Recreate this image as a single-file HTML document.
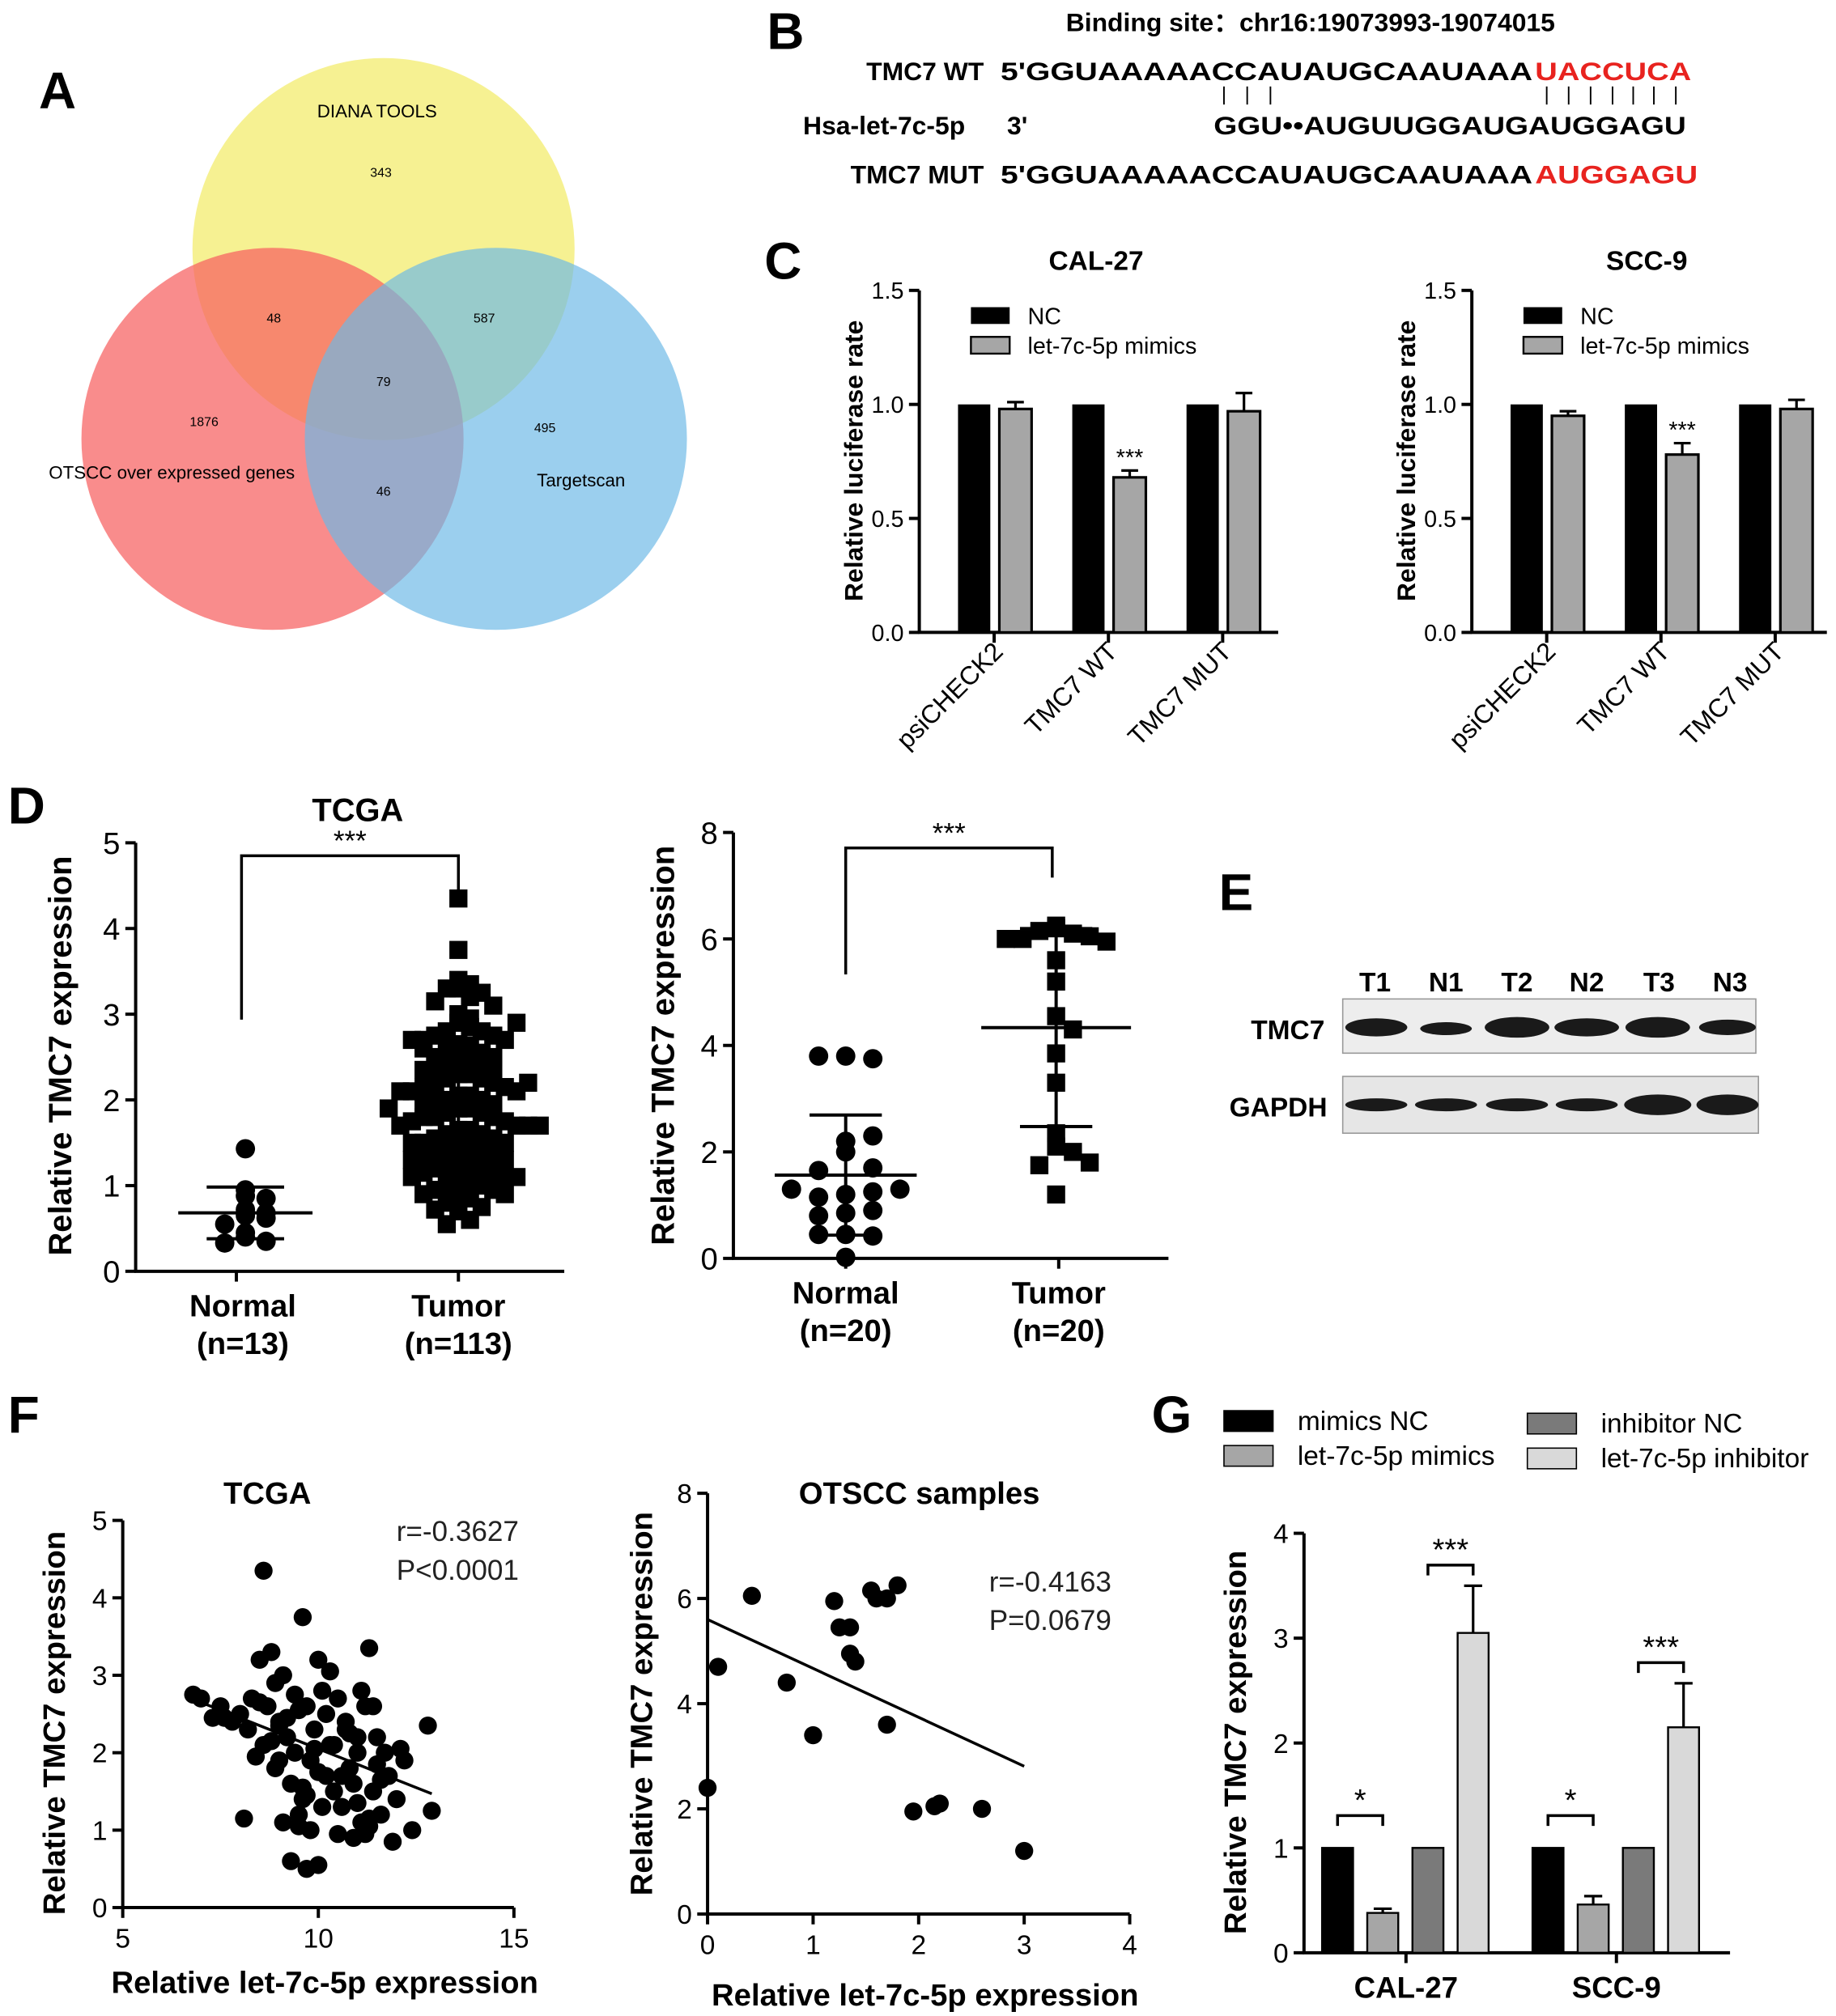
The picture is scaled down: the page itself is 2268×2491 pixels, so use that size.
<!DOCTYPE html>
<html><head><meta charset="utf-8"><style>
html,body{margin:0;padding:0;background:#fff;}
svg{display:block;font-family:"Liberation Sans",Arial,sans-serif;}
.lbl{font-weight:bold;}
</style></head><body>
<svg id="fig" xmlns="http://www.w3.org/2000/svg" width="2268" height="2491" viewBox="0 0 1422 1562">
<rect x="0" y="0" width="1422" height="1562" fill="#fff"/>
<text x="30" y="84" font-size="40" class="lbl">A</text>
<text x="594" y="38" font-size="40" class="lbl">B</text>
<text x="592" y="216" font-size="40" class="lbl">C</text>
<text x="6" y="638" font-size="40" class="lbl">D</text>
<text x="944" y="705" font-size="40" class="lbl">E</text>
<text x="6" y="1110" font-size="40" class="lbl">F</text>
<text x="892" y="1110" font-size="40" class="lbl">G</text>

<g>
<circle cx="297" cy="193" r="148" fill="#f3ec6e" opacity="0.75"/>
<circle cx="211" cy="340" r="148" fill="#f66060" opacity="0.72"/>
<circle cx="384" cy="340" r="148" fill="#6bb8e6" opacity="0.68"/>
<g font-size="10" text-anchor="middle">
<text x="295" y="137">343</text>
<text x="212" y="250">48</text>
<text x="375" y="250">587</text>
<text x="297" y="299">79</text>
<text x="158" y="330">1876</text>
<text x="422" y="335">495</text>
<text x="297" y="384">46</text>
</g>
<g font-size="14" text-anchor="middle">
<text x="292" y="91">DIANA TOOLS</text>
<text x="133" y="371">OTSCC over expressed genes</text>
<text x="450" y="377">Targetscan</text>
</g>
</g>

<g font-weight="bold" font-size="20">
<text x="1015" y="24" text-anchor="middle">Binding site：chr16:19073993-19074015</text>
<text x="762" y="62" text-anchor="end">TMC7 WT</text>
<text x="775" y="62" textLength="412" lengthAdjust="spacingAndGlyphs">5'GGUAAAAACCAUAUGCAAUAAA</text>
<text x="1189" y="62" textLength="121" lengthAdjust="spacingAndGlyphs" fill="#e8231f">UACCUCA</text>
<text x="622" y="104">Hsa-let-7c-5p</text>
<text x="780" y="104">3'</text>
<text x="940" y="104" textLength="366" lengthAdjust="spacingAndGlyphs">GGU••AUGUUGGAUGAUGGAGU</text>
<text x="762" y="142" text-anchor="end">TMC7 MUT</text>
<text x="775" y="142" textLength="412" lengthAdjust="spacingAndGlyphs">5'GGUAAAAACCAUAUGCAAUAAA</text>
<text x="1189" y="142" textLength="126" lengthAdjust="spacingAndGlyphs" fill="#e8231f">AUGGAGU</text>
<g stroke="#000" stroke-width="1.2">
<line x1="948" y1="67" x2="948" y2="81"/><line x1="966" y1="67" x2="966" y2="81"/><line x1="984" y1="67" x2="984" y2="81"/>
<line x1="1198" y1="67" x2="1198" y2="81"/><line x1="1215" y1="67" x2="1215" y2="81"/><line x1="1232" y1="67" x2="1232" y2="81"/><line x1="1249" y1="67" x2="1249" y2="81"/><line x1="1265" y1="67" x2="1265" y2="81"/><line x1="1281" y1="67" x2="1281" y2="81"/><line x1="1298" y1="67" x2="1298" y2="81"/>
</g>
</g>

<g>
<g font-weight="bold" font-size="21" text-anchor="middle">
<text x="1065" y="768">T1</text>
<text x="1120" y="768">N1</text>
<text x="1175" y="768">T2</text>
<text x="1229" y="768">N2</text>
<text x="1285" y="768">T3</text>
<text x="1340" y="768">N3</text>
</g>
<text x="1026" y="805" font-weight="bold" font-size="21" text-anchor="end">TMC7</text>
<text x="1028" y="865" font-weight="bold" font-size="21" text-anchor="end">GAPDH</text>
<rect x="1040" y="774" width="320" height="42" fill="#ededed" stroke="#999" stroke-width="1"/>
<rect x="1040" y="834" width="322" height="44" fill="#e6e6e6" stroke="#999" stroke-width="1"/>
<g fill="#1a1a1a">
<ellipse cx="1066" cy="796" rx="24" ry="7"/><ellipse cx="1120" cy="797" rx="20" ry="5"/><ellipse cx="1175" cy="796" rx="25" ry="8"/><ellipse cx="1229" cy="796" rx="25" ry="7"/><ellipse cx="1284" cy="796" rx="25" ry="8"/><ellipse cx="1338" cy="796" rx="22" ry="6"/>
<ellipse cx="1066" cy="856" rx="24" ry="5"/><ellipse cx="1120" cy="856" rx="24" ry="5"/><ellipse cx="1175" cy="856" rx="24" ry="5"/><ellipse cx="1229" cy="856" rx="24" ry="5"/><ellipse cx="1284" cy="856" rx="26" ry="8"/><ellipse cx="1338" cy="856" rx="24" ry="8"/>
</g>
</g>
</svg>
<script>
const cCategories = ['psiCHECK2', 'TMC7 WT', 'TMC7 MUT'];
const calNC = [1, 1, 1];
const calMimics = [0.98, 0.68, 0.97];
const calMimicsErr = [0.03, 0.03, 0.08];
const sccNC = [1, 1, 1];
const sccMimics = [0.95, 0.78, 0.98];
const sccMimicsErr = [0.02, 0.05, 0.04];
const cTicks = [0, 0.5, 1.0, 1.5];
const cTickLabels = ['0.0', '0.5', '1.0', '1.5'];

const d1Normal = [1.43, 0.95, 0.88, 0.85, 0.72, 0.68, 0.65, 0.62, 0.55, 0.45, 0.4, 0.35, 0.33];
const d1Tumor = [4.35, 3.75, 3.4, 3.35, 3.3, 3.2, 3.3, 3.25, 3.15, 3.1, 3.0, 2.95, 2.9, 2.85, 2.8, 2.8, 2.75, 2.75, 2.7, 2.7, 2.7, 2.65, 2.6, 2.6, 2.55, 2.5, 2.5, 2.45, 2.45, 2.4, 2.4, 2.4, 2.35, 2.35, 2.3, 2.3, 2.25, 2.25, 2.2, 2.2, 2.15, 2.15, 2.1, 2.1, 2.1, 2.05, 2.05, 2.0, 2.0, 2.0, 1.95, 1.95, 1.9, 1.9, 1.85, 1.85, 1.8, 1.8, 1.8, 1.75, 1.75, 1.7, 1.7, 1.7, 1.65, 1.65, 1.6, 1.6, 1.55, 1.55, 1.5, 1.5, 1.5, 1.45, 1.45, 1.4, 1.4, 1.35, 1.35, 1.3, 1.3, 1.3, 1.25, 1.25, 1.2, 1.2, 1.2, 1.15, 1.15, 1.1, 1.1, 1.1, 1.05, 1.05, 1.0, 1.0, 0.95, 0.95, 0.9, 0.9, 0.85, 0.85, 0.8, 0.75, 0.72, 0.7, 0.6, 0.55, 2.9, 2.6, 2.2, 1.9, 1.7];
const d1Ticks = [0, 1, 2, 3, 4, 5];
const d2Normal = [3.8, 3.75, 3.8, 2.2, 2.3, 2.0, 1.7, 1.65, 1.2, 1.25, 1.15, 1.3, 1.3, 0.85, 0.9, 0.8, 0.45, 0.42, 0.45, 0.02];
const d2Tumor = [6.2, 6.1, 6.15, 6.05, 6.0, 5.95, 6.0, 6.25, 5.6, 5.2, 4.55, 4.3, 3.85, 3.3, 2.35, 2.1, 2.0, 1.75, 1.8, 1.2];
const d2Ticks = [0, 2, 4, 6, 8];

const f1X = [8.6, 9.6, 7.0, 7.5, 7.8, 8.0, 8.2, 8.3, 8.5, 8.6, 8.7, 8.8, 8.9, 9.0, 9.1, 9.2, 9.3, 9.4, 9.5, 9.6, 9.7, 9.8, 9.9, 10.0, 10.1, 10.2, 10.3, 10.4, 10.5, 10.6, 10.7, 10.8, 10.9, 11.0, 11.1, 11.2, 11.3, 11.4, 11.5, 11.6, 11.7, 11.8, 11.9, 12.0, 12.2, 12.4, 12.8, 12.9, 8.9, 9.1, 9.3, 9.5, 9.7, 9.9, 10.1, 10.3, 10.5, 10.7, 10.9, 11.1, 11.3, 11.5, 9.0, 9.4, 9.8, 10.2, 10.6, 11.0, 9.2, 9.6, 10.0, 10.4, 8.4, 8.8, 11.2, 11.6, 12.1, 6.8, 7.3, 9.5, 9.7, 10.0, 11.0, 11.4, 8.1, 8.5, 9.0, 10.8, 11.3, 7.6];
const f1Y = [4.35, 3.75, 2.7, 2.6, 2.4, 2.5, 2.3, 2.7, 3.2, 2.1, 2.6, 3.3, 1.8, 2.4, 3.0, 2.2, 1.6, 2.0, 1.2, 1.4, 2.6, 1.9, 2.3, 0.55, 2.8, 1.7, 2.1, 1.5, 2.7, 1.3, 2.4, 1.8, 0.9, 2.0, 1.1, 2.6, 3.35, 1.5, 2.2, 1.2, 2.0, 1.7, 0.85, 1.4, 1.9, 1.0, 2.35, 1.25, 2.9, 1.1, 0.6, 2.55, 1.45, 2.05, 1.3, 3.05, 0.95, 2.3, 1.6, 2.8, 1.15, 1.85, 1.9, 2.75, 1.0, 2.5, 1.7, 2.2, 2.45, 1.55, 1.75, 2.1, 1.95, 2.15, 0.95, 1.65, 2.05, 2.75, 2.45, 1.05, 0.5, 3.2, 1.35, 2.6, 1.15, 2.65, 2.35, 2.25, 1.05, 2.45];
const f1Fit = [4.05, -0.2];
const f1XTicks = [5, 10, 15];
const f1YTicks = [0, 1, 2, 3, 4, 5];
const f2X = [0, 0.1, 0.42, 0.75, 1.0, 1.2, 1.25, 1.35, 1.35, 1.4, 1.55, 1.6, 1.7, 1.8, 1.7, 1.95, 2.15, 2.2, 2.6, 3.0];
const f2Y = [2.4, 4.7, 6.05, 4.4, 3.4, 5.95, 5.45, 5.45, 4.95, 4.8, 6.15, 6.0, 6.0, 6.25, 3.6, 1.95, 2.05, 2.1, 2.0, 1.2];
const f2Fit = [5.6, -0.93];
const f2XTicks = [0, 1, 2, 3, 4];
const f2YTicks = [0, 2, 4, 6, 8];

const gGroups = ['CAL-27', 'SCC-9'];
const gMimicsNC = [1, 1];
const gMimics = [0.38, 0.46];
const gMimicsErr = [0.04, 0.08];
const gInhibitorNC = [1, 1];
const gInhibitor = [3.05, 2.15];
const gInhibitorErr = [0.45, 0.42];
const gTicks = [0, 1, 2, 3, 4];

const NS = 'http://www.w3.org/2000/svg';
const svg = document.getElementById('fig');
function mk(tag, attrs, parent) {
  const e = document.createElementNS(NS, tag);
  for (const k in attrs) e.setAttribute(k, attrs[k]);
  (parent || svg).appendChild(e);
  return e;
}
function txt(s, attrs, parent) { const e = mk('text', attrs, parent); e.textContent = s; return e; }
function linScale(d0, d1, r0, r1) { return v => r0 + (v - d0) / (d1 - d0) * (r1 - r0); }
function group(nm) {
  const g = mk('g', {});
  
  
  return g;
}
function yAxis(g, x, y0, y1, ticks, labels, sy, fs, nm) {
  const ax = mk('line', { x1: x, y1: y0 + 1, x2: x, y2: y1, stroke: '#000', 'stroke-width': 2.5 }, g);
  
  
  ticks.forEach((t, i) => {
    mk('line', { x1: x - 8, y1: sy(t), x2: x, y2: sy(t), stroke: '#000', 'stroke-width': 2.5 }, g);
    const tl = txt(labels[i], { x: x - 12, y: sy(t) + fs * 0.36, 'font-size': fs, 'text-anchor': 'end' }, g);
    
    
  });
}
function xAxisLine(g, x0, x1, y, nm) {
  const ax = mk('line', { x1: x0 - 1, y1: y, x2: x1, y2: y, stroke: '#000', 'stroke-width': 2.5 }, g);
  
  
}
function yTitle(g, s, x, cy, fs, nm) {
  const t = txt(s, { x: x, y: cy, 'font-size': fs, 'font-weight': 'bold', 'text-anchor': 'middle', transform: `rotate(-90 ${x} ${cy})` }, g);
  
  
}
function mean(a) { return a.reduce((s, v) => s + v, 0) / a.length; }
function sd(a) { const m = mean(a); return Math.sqrt(a.reduce((s, v) => s + (v - m) * (v - m), 0) / (a.length - 1)); }

function drawC(nm, title, x0, x1, nc, mim, err) {
  const g = group(nm);
  const sy = linScale(0, 1.5, 490, 225);
  const tt = txt(title, { x: (x0 + x1) / 2 - 2, y: 209, 'font-size': 21, 'font-weight': 'bold', 'text-anchor': 'middle' }, g);
  
  
  yAxis(g, x0, 490, 225, cTicks, cTickLabels, sy, 18, 'y-axis');
  xAxisLine(g, x0, x1, 490, 'x-axis');
  yTitle(g, 'Relative luciferase rate', x0 - 44, 357, 20, 'y-axis-title');
  cCategories.forEach((c, i) => {
    const cx = x0 + 58 + i * 88.5;
    const b1 = mk('rect', { x: cx - 28, y: sy(nc[i]), width: 25, height: 490 - sy(nc[i]), fill: '#000' }, g);
    
    
    const b2 = mk('rect', { x: cx + 4, y: sy(mim[i]), width: 25, height: 490 - sy(mim[i]), fill: '#a6a6a6', stroke: '#000', 'stroke-width': 2 }, g);
    
    
    const et = sy(mim[i] + err[i]);
    const eb = mk('path', { d: `M${cx + 16.5} ${sy(mim[i])}V${et}M${cx + 10} ${et}H${cx + 23}`, stroke: '#000', 'stroke-width': 2, fill: 'none' }, g);
    
    
    mk('line', { x1: cx, y1: 490, x2: cx, y2: 498, stroke: '#000', 'stroke-width': 2.5 }, g);
    const xl = txt(c, { x: cx + 8, y: 506, 'font-size': 20, 'text-anchor': 'end', transform: `rotate(-45 ${cx + 8} 506)` }, g);
    
    
    if (mim[i] < 0.9) {
      const st = txt('***', { x: cx + 16.5, y: et - 4, 'font-size': 18, 'text-anchor': 'middle' }, g);
      
      
    }
  });
  const lx = x0 + 40;
  const l1 = mk('rect', { x: lx, y: 238, width: 30, height: 13, fill: '#000' }, g);
  
  
  const l1t = txt('NC', { x: lx + 44, y: 251, 'font-size': 18 }, g);
  
  
  const l2 = mk('rect', { x: lx, y: 261, width: 30, height: 13, fill: '#a6a6a6', stroke: '#000', 'stroke-width': 1.5 }, g);
  
  
  const l2t = txt('let-7c-5p mimics', { x: lx + 44, y: 274, 'font-size': 18 }, g);
  
  
}
drawC('luciferase-chart-cal27', 'CAL-27', 712, 990, calNC, calMimics, calMimicsErr);
drawC('luciferase-chart-scc9', 'SCC-9', 1140, 1415, sccNC, sccMimics, sccMimicsErr);

function swarm(g, vals, cx, sy, bin, step, shape, size, nm) {
  const counts = {};
  vals.forEach(v => {
    const b = Math.round(v / bin);
    const k = counts[b] || 0; counts[b] = k + 1;
    const off = (k === 0 ? 0 : (k % 2 ? 1 : -1) * Math.ceil(k / 2)) * step;
    let m;
    if (shape === 'sq') m = mk('rect', { x: cx + off - size / 2, y: sy(v) - size / 2, width: size, height: size, fill: '#000' }, g);
    else m = mk('circle', { cx: cx + off, cy: sy(v), r: size / 2, fill: '#000' }, g);
    
    
  });
}
function meanSD(g, vals, cx, sy, mw, sw) {
  const m = mean(vals), s = sd(vals);
  const p = mk('path', { d: `M${cx - mw} ${sy(m)}H${cx + mw}M${cx} ${sy(m + s)}V${sy(m - s)}M${cx - sw} ${sy(m + s)}H${cx + sw}M${cx - sw} ${sy(m - s)}H${cx + sw}`, stroke: '#000', 'stroke-width': 2.5, fill: 'none' }, g);
  
  
}
function xCatLabels(g, labels, xs, y) {
  labels.forEach((l, i) => {
    l.forEach((s, j) => {
      const t = txt(s, { x: xs[i], y: y + j * 29, 'font-size': 24, 'font-weight': 'bold', 'text-anchor': 'middle' }, g);
      
      
    });
  });
}
function bracket(g, x1, y1, x2, y2, top, stars, fs) {
  const p = mk('path', { d: `M${x1} ${y1}V${top}H${x2}V${y2}`, stroke: '#000', 'stroke-width': 2.2, fill: 'none' }, g);
  
  
  const t = txt(stars, { x: (x1 + x2) / 2, y: top - 4, 'font-size': fs, 'text-anchor': 'middle' }, g);
  
  
}
(function () {
  const g = group('tcga-expression-chart');
  const sy = linScale(0, 5, 985, 653);
  const tt = txt('TCGA', { x: 277, y: 636, 'font-size': 25, 'font-weight': 'bold', 'text-anchor': 'middle' }, g);
  
  
  yAxis(g, 105, 985, 653, d1Ticks, d1Ticks.map(String), sy, 24, 'y-axis');
  xAxisLine(g, 105, 437, 985, 'x-axis');
  [183, 355].forEach(x => mk('line', { x1: x, y1: 985, x2: x, y2: 993, stroke: '#000', 'stroke-width': 2.5 }, g));
  yTitle(g, 'Relative TMC7 expression', 55, 818, 25, 'y-axis-title');
  swarm(g, d1Normal, 190, sy, 0.12, 16, 'c', 15, 'point-normal');
  meanSD(g, d1Normal, 190, sy, 52, 30);
  swarm(g, d1Tumor, 355, sy, 0.2, 9, 'sq', 14, 'point-tumor');
  meanSD(g, d1Tumor, 355, sy, 12, 12);
  bracket(g, 187, 790, 355, 690, 663, '***', 22);
  xCatLabels(g, [['Normal', '(n=13)'], ['Tumor', '(n=113)']], [188, 355], 1020);
})();
(function () {
  const g = group('tmc7-samples-chart');
  const sy = linScale(0, 8, 975, 645);
  yAxis(g, 568, 975, 645, d2Ticks, d2Ticks.map(String), sy, 24, 'y-axis');
  xAxisLine(g, 568, 905, 975, 'x-axis');
  [655, 820].forEach(x => mk('line', { x1: x, y1: 975, x2: x, y2: 983, stroke: '#000', 'stroke-width': 2.5 }, g));
  yTitle(g, 'Relative TMC7 expression', 522, 810, 25, 'y-axis-title');
  swarm(g, d2Normal, 655, sy, 0.45, 21, 'c', 15, 'point-normal');
  meanSD(g, d2Normal, 655, sy, 55, 28);
  swarm(g, d2Tumor, 818, sy, 0.5, 13, 'sq', 14, 'point-tumor');
  meanSD(g, d2Tumor, 818, sy, 58, 28);
  bracket(g, 655, 755, 815, 680, 657, '***', 22);
  xCatLabels(g, [['Normal', '(n=20)'], ['Tumor', '(n=20)']], [655, 820], 1010);
})();

function scatter(nm, title, xs, ys, fit, sx, sy, xTicks, yTicks, axX, axY, xEnd, yTop, stats, statX, statY, titleX, titleY, ytX, ytY, xtY) {
  const g = group(nm);
  const tt = txt(title, { x: titleX, y: titleY, 'font-size': 24, 'font-weight': 'bold', 'text-anchor': 'middle' }, g);
  
  
  yAxis(g, axX, axY, yTop, yTicks, yTicks.map(String), sy, 21, 'y-axis');
  xAxisLine(g, axX, xEnd, axY, 'x-axis');
  xTicks.forEach(t => {
    mk('line', { x1: sx(t), y1: axY, x2: sx(t), y2: axY + 8, stroke: '#000', 'stroke-width': 2.5 }, g);
    const l = txt(String(t), { x: sx(t), y: axY + 31, 'font-size': 21, 'text-anchor': 'middle' }, g);
    
    
  });
  const n = Math.min(xs.length, ys.length);
  for (let i = 0; i < n; i++) {
    const c = mk('circle', { cx: sx(xs[i]), cy: sy(ys[i]), r: 7, fill: '#000' }, g);
    
    
  }
  const xmin = Math.min(...xs.slice(0, n)), xmax = Math.max(...xs.slice(0, n));
  const fl = mk('line', { x1: sx(xmin), y1: sy(fit[0] + fit[1] * xmin), x2: sx(xmax), y2: sy(fit[0] + fit[1] * xmax), stroke: '#000', 'stroke-width': 2.2 }, g);
  
  
  stats.forEach((s, i) => {
    const t = txt(s, { x: statX, y: statY + i * 30, 'font-size': 22, fill: '#222' }, g);
    
    
  });
  yTitle(g, 'Relative TMC7 expression', ytX, ytY, 24, 'y-axis-title');
  const xt = txt('Relative let-7c-5p expression', { x: (axX + xEnd) / 2 + 5, y: xtY, 'font-size': 24, 'font-weight': 'bold', 'text-anchor': 'middle' }, g);
  
  
}
scatter('tcga-correlation-chart', 'TCGA', f1X, f1Y, f1Fit, linScale(5, 15, 95, 398), linScale(0, 5, 1478, 1178), f1XTicks, f1YTicks, 95, 1478, 398, 1178, ['r=-0.3627', 'P<0.0001'], 307, 1194, 207, 1165, 50, 1335, 1544);
scatter('otscc-correlation-chart', 'OTSCC samples', f2X, f2Y, f2Fit, linScale(0, 4, 548, 875), linScale(0, 8, 1483, 1157), f2XTicks, f2YTicks, 548, 1483, 875, 1157, ['r=-0.4163', 'P=0.0679'], 766, 1233, 712, 1165, 505, 1320, 1554);

(function () {
  const g = group('tmc7-expression-bar-chart');
  const sy = linScale(0, 4, 1513, 1188);
  yAxis(g, 1010, 1513, 1188, gTicks, gTicks.map(String), sy, 21, 'y-axis');
  xAxisLine(g, 1010, 1340, 1513, 'x-axis');
  yTitle(g, 'Relative TMC7 expression', 965, 1350, 24, 'y-axis-title');
  const series = [gMimicsNC, gMimics, gInhibitorNC, gInhibitor];
  const errs = [null, gMimicsErr, null, gInhibitorErr];
  const fills = ['#000', '#a6a6a6', '#7a7a7a', '#d9d9d9'];
  const names = ['bar-mimics-nc', 'bar-mimics', 'bar-inhibitor-nc', 'bar-inhibitor'];
  const offs = [-53, -18, 17, 52];
  gGroups.forEach((grp, i) => {
    const cx = 1089 + i * 163;
    series.forEach((s, j) => {
      const bx = cx + offs[j];
      const b = mk('rect', { x: bx - 12, y: sy(s[i]), width: 24, height: 1513 - sy(s[i]), fill: fills[j], stroke: '#000', 'stroke-width': 1.5 }, g);
      
      
      if (errs[j]) {
        const et = sy(s[i] + errs[j][i]);
        const e = mk('path', { d: `M${bx} ${sy(s[i])}V${et}M${bx - 7} ${et}H${bx + 7}`, stroke: '#000', 'stroke-width': 2, fill: 'none' }, g);
        
        
      }
    });
    const t1 = sy(Math.max(series[0][i], series[1][i] + errs[1][i])) - 25;
    bracket(g, cx + offs[0], t1 + 8, cx + offs[1], t1 + 8, t1, '*', 24);
    const t2 = sy(series[3][i] + errs[3][i]) - 16;
    bracket(g, cx + offs[2], t2 + 8, cx + offs[3], t2 + 8, t2, '***', 24);
    mk('line', { x1: cx, y1: 1513, x2: cx, y2: 1521, stroke: '#000', 'stroke-width': 2.5 }, g);
    const xl = txt(grp, { x: cx, y: 1548, 'font-size': 23, 'font-weight': 'bold', 'text-anchor': 'middle' }, g);
    
    
  });
  const legend = [['mimics NC', 948, 1093], ['let-7c-5p mimics', 948, 1120], ['inhibitor NC', 1183, 1095], ['let-7c-5p inhibitor', 1183, 1122]];
  legend.forEach((l, j) => {
    const r = mk('rect', { x: l[1], y: l[2], width: 38, height: 16, fill: fills[j], stroke: '#000', 'stroke-width': 1 }, g);
    
    
    const t = txt(l[0], { x: l[1] + 57, y: l[2] + 15, 'font-size': 21 }, g);
    
    
  });
})();
</script>
</body></html>
